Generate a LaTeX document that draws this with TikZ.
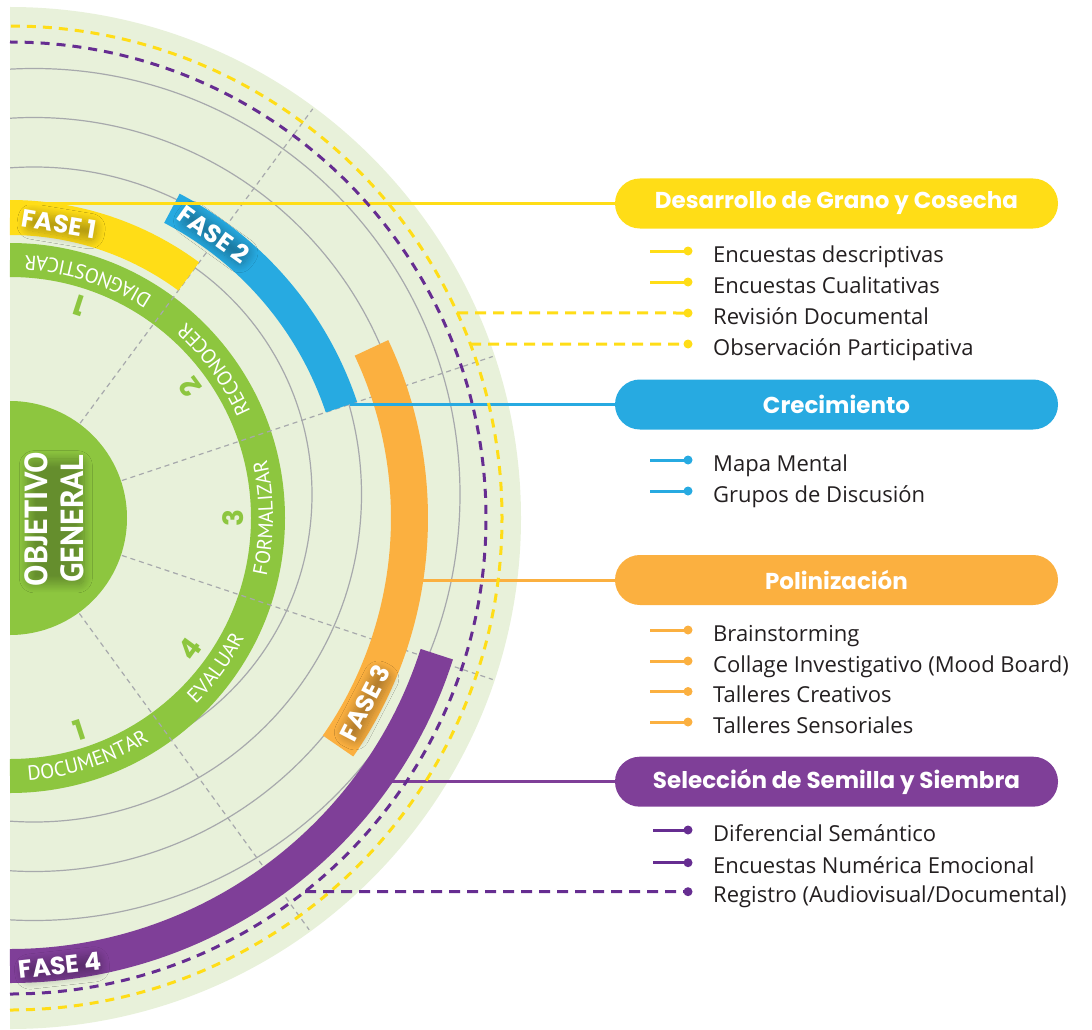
\documentclass[tikz,border=0pt]{standalone}
\usepackage{fontspec}
\usepackage{tikz}
\usetikzlibrary{shadows.blur, decorations.text}

\setmainfont{Open Sans}
\newfontfamily\headfont{Poppins}
\newfontfamily\ringfont{PT Sans}

\definecolor{pale}{RGB}{232,241,218}
\definecolor{leaf}{RGB}{141,198,63}
\definecolor{sun}{RGB}{255,221,23}
\definecolor{sky}{RGB}{39,170,225}
\definecolor{amber}{RGB}{251,176,64}
\definecolor{plum}{RGB}{127,63,152}
\definecolor{grape}{RGB}{102,45,145}
\definecolor{rim}{RGB}{167,169,172}
\definecolor{ink}{RGB}{35,31,32}

% word written along the green ring
\newcommand\ringword[2]{%
  \path[decorate, decoration={text along path, text align=center, text color=white,
    text={|\ringfont\fontsize{20.5}{22}\selectfont|#2}}]
    (#1-18:263) arc[start angle=#1-18, end angle=#1+18, radius=263];}

\begin{document}
\begin{tikzpicture}[x=1pt, y=1pt,
  pill/.style={rounded corners=24.9pt, minimum width=443pt, minimum height=50pt,
    inner sep=0pt, text=white, font=\headfont\bfseries\fontsize{23}{26}\selectfont},
  item/.style={anchor=base west, inner sep=0pt, text=ink, font=\fontsize{22}{24}\selectfont},
  glow/.style={blur shadow={shadow xshift=2pt, shadow yshift=-3pt, shadow opacity=28,
    shadow scale=0.92, shadow blur radius=9pt, shadow blur extra rounding=7pt, shadow blur steps=16}},
  fase/.style={glow, text=white, inner sep=1pt, font=\headfont\bfseries\fontsize{25}{28}\selectfont},
  num/.style={text=leaf, inner sep=0pt, font=\headfont\bfseries\fontsize{28}{30}\selectfont},
  spoke/.style={rim, line width=1.2pt, dash pattern=on 5pt off 4pt},
  stem/.style={line width=3pt},
  dashlink/.style={line width=3pt, dash pattern=on 11pt off 7pt},
]
\useasboundingbox (-10,-511) rectangle (1082,518);

% disc and grey rings
\begin{scope}
  \clip (0,-511) rectangle (600,518);
  \fill[pale] (0,0) circle[radius=511];
  \foreach \r in {278,327.5,377,426}
    \draw[rim, line width=1.2pt] (24,23.5) circle[radius=\r];
\end{scope}

% green ring and centre
\draw[leaf, line width=34pt] (-90:258) arc[start angle=-90, end angle=90, radius=258];
\fill[leaf] (-90:117) arc[start angle=-90, end angle=90, radius=117] -- cycle;

\foreach \a in {53.5,18.5,-18.5,-54}
  \draw[spoke] (\a:118) -- (\a:509);

\ringword{72}{DIAGNOSTICAR}
\ringword{36}{RECONOCER}
\ringword{0}{FORMALIZAR}
\ringword{-36}{EVALUAR}
\ringword{-72}{DOCUMENTAR}

\foreach \a/\n [count=\i] in {72/1, 36/2, 0/3, -36/4, -72/1}
  \node[num, rotate=\a+90] (n\i) at (\a:223) {\n};

\begin{scope}
  \clip (0,-130) rectangle (130,130);
  \node[fase, font=\ringfont\bfseries\fontsize{32}{36}\selectfont, align=center, rotate=90]
    (objetivo) at (44,-1) {OBJETIVO\\GENERAL};
\end{scope}

% phases
\draw[sun, line width=35pt] (53.5:300.5) arc[start angle=53.5, end angle=90, radius=300.5];
\draw[sky, line width=33pt] (18.5:349.5) arc[start angle=18.5, end angle=62.4, radius=349.5];
\draw[amber, line width=37pt] (-34.8:399.5) arc[start angle=-34.8, end angle=25.2, radius=399.5];
\draw[plum, line width=34pt] (-90:448) arc[start angle=-90, end angle=-17.7, radius=448];

\node[fase, rotate=-9.5] (fase1) at (80.5:298.5) {FASE 1};
\node[fase, rotate=-35.7] (fase2) at (54.3:349.5) {FASE 2};
\node[fase, rotate=62.5] (fase3) at (-27.5:400) {FASE 3};
\node[fase, rotate=6.4] (fase4) at (-83.6:450) {FASE 4};

% stages
\node[pill, fill=sun] (grano) at (826.5,314.5) {Desarrollo de Grano y Cosecha};
\node[pill, fill=sky] (crecimiento) at (826.5,113.5) {Crecimiento};
\node[pill, fill=amber] (polinizacion) at (826.5,-62) {Polinización};
\node[pill, fill=plum] (siembra) at (826.5,-263.7) {Selección de Semilla y Siembra};

\coordinate (f1) at (0,314.5);
\coordinate (f2) at (340,113.5);
\coordinate (f3) at (405,-62);
\coordinate (f4) at (380,-263.7);
\draw[stem, sun] (f1) -- (grano.west);
\draw[stem, sky] (f2) -- (crecimiento.west);
\draw[stem, amber] (f3) -- (polinizacion.west);
\draw[stem, plum] (f4) -- (siembra.west);

% dashed rings
\draw[grape, dashlink, dash pattern=on 9pt off 7pt] (-90:476) arc[start angle=-90, end angle=90, radius=476];
\draw[sun, dashlink, dash pattern=on 9pt off 7pt] (-90:492) arc[start angle=-90, end angle=90, radius=492];

% methods: text baseline sits 11pt under its dot
\foreach \t/\y [count=\i] in {Encuestas descriptivas/267, Encuestas Cualitativas/236,
    Revisión Documental/205, Observación Participativa/174}{
  \node[item] (g\i) at (703,\y-11) {\t};
  \coordinate (gd\i) at (678,\y);
}
\foreach \i in {1,2}
  \draw[stem, sun] (gd\i) -- ++(-38,0);
\draw[sun, dashlink] (24.63:492) -- (gd3);
\draw[sun, dashlink] (20.71:492) -- (gd4);
\foreach \i in {1,...,4}
  \fill[sun] (gd\i) circle[radius=4.5pt];

\foreach \t/\y [count=\i] in {Mapa Mental/58, Grupos de Discusión/27}{
  \node[item] (c\i) at (703,\y-11) {\t};
  \coordinate (cd\i) at (678,\y);
  \draw[stem, sky] (cd\i) -- ++(-38,0);
  \fill[sky] (cd\i) circle[radius=4.5pt];
}

\foreach \t/\y [count=\i] in {Brainstorming/-112, Collage Investigativo (Mood Board)/-143,
    Talleres Creativos/-173.5, Talleres Sensoriales/-204}{
  \node[item] (p\i) at (703,\y-11) {\t};
  \coordinate (pd\i) at (678,\y);
  \draw[stem, amber] (pd\i) -- ++(-38,0);
  \fill[amber] (pd\i) circle[radius=4.5pt];
}

\foreach \t/\y [count=\i] in {Diferencial Semántico/-312, Encuestas Numérica Emocional/-344.7,
    {Registro (Audiovisual/Documental)}/-373.7}{
  \node[item] (s\i) at (703,\y-11) {\t};
  \coordinate (sd\i) at (678,\y);
}
\foreach \i in {1,2}
  \draw[stem, grape] (sd\i) -- ++(-35,0);
\draw[grape, dashlink] (-51.70:476) -- (sd3);
\foreach \i in {1,2,3}
  \fill[grape] (sd\i) circle[radius=4.5pt];
\end{tikzpicture}
\end{document}
